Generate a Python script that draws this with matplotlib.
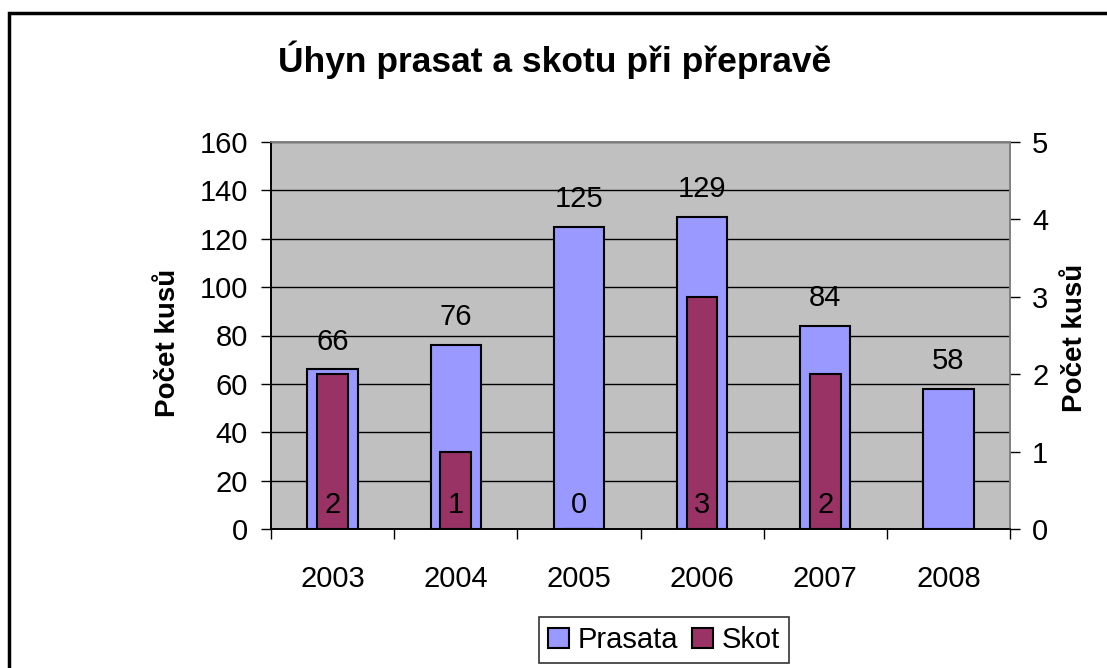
import numpy as np
import matplotlib
matplotlib.use('Agg')
import matplotlib.pyplot as plt
from matplotlib.patches import Rectangle

plt.rcParams['font.family'] = ['Liberation Sans', 'DejaVu Sans']

# data
years = ['2003', '2004', '2005', '2006', '2007', '2008']
prasata = [66, 76, 125, 129, 84, 58]
skot = [2, 1, 0, 3, 2, np.nan]

fig = plt.figure(figsize=(11.07, 6.68), dpi=100)
ax = fig.add_axes([271/1107, 1-529/668, 739/1107, 387/668])
ax2 = ax.twinx()

x = np.arange(len(years))

# background and grid
ax.set_facecolor('#C0C0C0')
ax.set_axisbelow(True)
ax.yaxis.grid(True, color='black', lw=1)

ax.bar(x, prasata, width=0.41, color='#9999FF', edgecolor='black', lw=1.5, label='Prasata')
ax2.bar(x, skot, width=0.25, color='#993366', edgecolor='black', lw=1.5, label='Skot')

for i, v in enumerate(prasata):
    ax.annotate(str(v), (i, v), xytext=(0, 20), textcoords='offset points',
                ha='center', va='center', fontsize=21)
for i, v in enumerate(skot):
    if not np.isnan(v):
        ax2.annotate(str(int(v)), (i, 0), xytext=(0, 17), textcoords='offset points',
                     ha='center', va='center', fontsize=21)

ax.set_xlim(-0.5, 5.5)
ax.set_ylim(0, 160)
ax.set_yticks(range(0, 161, 20))
ax2.set_ylim(0, 5)
ax2.set_yticks(range(0, 6))

ax.set_xticks(x)
ax.set_xticklabels(years)
ax.set_xticks(np.arange(-0.5, 6, 1), minor=True)
ax.tick_params(axis='x', which='major', length=0, pad=26, labelsize=21)
ax.tick_params(axis='x', which='minor', length=7, width=1, direction='out')
ax.tick_params(axis='y', length=7, width=1, direction='out', labelsize=21, pad=9.5)
ax2.tick_params(axis='y', length=7, width=1, direction='out', labelsize=21, pad=9)

for s in ['top', 'right']:
    ax.spines[s].set_color('#808080')
    ax2.spines[s].set_color('#808080')
ax.spines['left'].set_color('black')
ax.spines['bottom'].set_color('black')
for sp in ax.spines.values():
    sp.set_linewidth(1.2)
for sp in ax2.spines.values():
    sp.set_linewidth(1.2)

# axis titles
fig.text(168/1107, 1-343/668, 'Počet kusů', rotation=90, ha='center', va='center',
         fontsize=20, fontweight='bold')
fig.text(1075/1107, 1-338/668, 'Počet kusů', rotation=90, ha='center', va='center',
         fontsize=20, fontweight='bold')

fig.text(555/1107, 1-60/668, 'Úhyn prasat a skotu při přepravě', ha='center', va='center',
         fontsize=25.5, fontweight='bold')

h1, l1 = ax.get_legend_handles_labels()
h2, l2 = ax2.get_legend_handles_labels()
leg = fig.legend(h1 + h2, l1 + l2, loc='center', bbox_to_anchor=(664/1107, 1-640/668),
                 ncol=2, fontsize=21, frameon=True, fancybox=False, edgecolor='black',
                 handlelength=0.7, handleheight=0.7, handletextpad=0.3, columnspacing=0.5,
                 borderpad=0.3, borderaxespad=0)
leg.get_frame().set_linewidth(1.2)

# outer chart frame
fig.add_artist(Rectangle((9/1107, -0.1), 2, 1.1 - 13/668, transform=fig.transFigure,
                         fill=False, edgecolor='black', lw=2.5))

fig.savefig('out.png', dpi=100)
